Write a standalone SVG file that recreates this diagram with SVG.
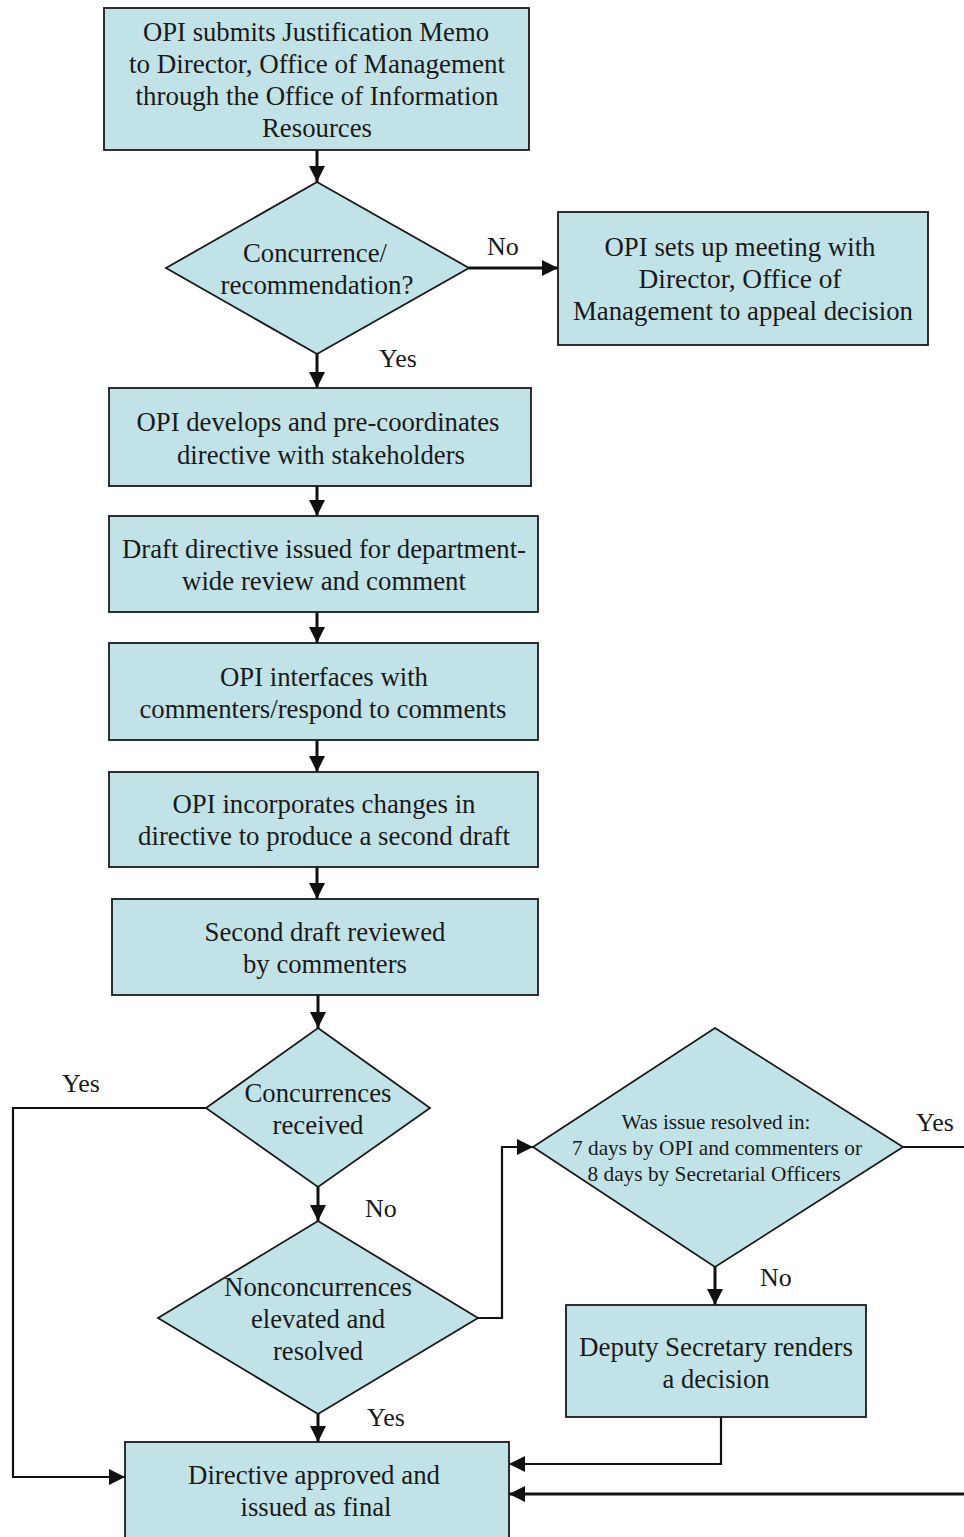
<svg xmlns="http://www.w3.org/2000/svg" width="964" height="1537" viewBox="0 0 964 1537">
<style>
.n{fill:#c1e3e7;stroke:#1a1a1a;stroke-width:1.8}
.t{font-family:"Liberation Serif","Times New Roman",serif;font-size:27px;fill:#1a1a1a;text-anchor:middle}
.s{font-size:21px}
.c{fill:none;stroke:#111;stroke-width:3}
.l{font-family:"Liberation Serif","Times New Roman",serif;font-size:26px;fill:#1a1a1a}
</style>
<defs>
<marker id="a" viewBox="0 0 16 16" refX="16" refY="8" markerWidth="16" markerHeight="16" markerUnits="userSpaceOnUse" orient="auto">
<path d="M0,0 L16,8 L0,16 z" fill="#111"/>
</marker>
</defs>
<rect width="964" height="1537" fill="#fff"/>
<g id="connectors">
<path class="c" d="M317,150 V182" marker-end="url(#a)"/>
<path class="c" d="M469,268 H558" marker-end="url(#a)"/>
<path class="c" d="M317,354 V388" marker-end="url(#a)"/>
<path class="c" d="M317,486 V516" marker-end="url(#a)"/>
<path class="c" d="M317,612 V643" marker-end="url(#a)"/>
<path class="c" d="M317,740 V772" marker-end="url(#a)"/>
<path class="c" d="M317,867 V899" marker-end="url(#a)"/>
<path class="c" d="M318,995 V1028" marker-end="url(#a)"/>
<path class="c" d="M206,1108 H13 V1477 H125" marker-end="url(#a)" style="stroke-width:2.2"/>
<path class="c" d="M318,1187 V1221" marker-end="url(#a)"/>
<path class="c" d="M478,1318 H502 V1147 H533" marker-end="url(#a)" style="stroke-width:2.2"/>
<path class="c" d="M318,1414 V1442" marker-end="url(#a)"/>
<path class="c" d="M903,1147 H964" style="stroke-width:1.8"/>
<path class="c" d="M715,1267 V1305" marker-end="url(#a)"/>
<path class="c" d="M721,1417 V1464 H509" marker-end="url(#a)" style="stroke-width:2.2"/>
<path class="c" d="M964,1494 H509" marker-end="url(#a)" style="stroke-width:3"/>
</g>
<g id="labels">
<text class="l" x="487" y="255">No</text>
<text class="l" x="379" y="367">Yes</text>
<text class="l" x="62" y="1092">Yes</text>
<text class="l" x="365" y="1217">No</text>
<text class="l" x="367" y="1426">Yes</text>
<text class="l" x="916" y="1131">Yes</text>
<text class="l" x="760" y="1286">No</text>
</g>
<g id="n1">
<rect class="n" x="104" y="8" width="425" height="142"/>
<text class="t" x="316" y="41" textLength="346" lengthAdjust="spacingAndGlyphs">OPI submits Justification Memo</text>
<text class="t" x="317" y="73" textLength="376" lengthAdjust="spacingAndGlyphs">to Director, Office of Management</text>
<text class="t" x="317" y="105" textLength="363" lengthAdjust="spacingAndGlyphs">through the Office of Information</text>
<text class="t" x="317" y="137" textLength="110" lengthAdjust="spacingAndGlyphs">Resources</text>
</g>
<g id="d1">
<polygon class="n" points="317,182 469,268 317,354 166,268"/>
<text class="t" x="315" y="262" textLength="144" lengthAdjust="spacingAndGlyphs">Concurrence/</text>
<text class="t" x="317" y="294" textLength="193" lengthAdjust="spacingAndGlyphs">recommendation?</text>
</g>
<g id="n2">
<rect class="n" x="558" y="212" width="370" height="133"/>
<text class="t" x="740" y="256" textLength="271" lengthAdjust="spacingAndGlyphs">OPI sets up meeting with</text>
<text class="t" x="740" y="288" textLength="203" lengthAdjust="spacingAndGlyphs">Director, Office of</text>
<text class="t" x="743" y="320" textLength="340" lengthAdjust="spacingAndGlyphs">Management to appeal decision</text>
</g>
<g id="n3">
<rect class="n" x="109" y="388" width="422" height="98"/>
<text class="t" x="318" y="431" textLength="363" lengthAdjust="spacingAndGlyphs">OPI develops and pre-coordinates</text>
<text class="t" x="321" y="464" textLength="288" lengthAdjust="spacingAndGlyphs">directive with stakeholders</text>
</g>
<g id="n4">
<rect class="n" x="109" y="516" width="429" height="96"/>
<text class="t" x="324" y="558" textLength="404" lengthAdjust="spacingAndGlyphs">Draft directive issued for department-</text>
<text class="t" x="324" y="590" textLength="284" lengthAdjust="spacingAndGlyphs">wide review and comment</text>
</g>
<g id="n5">
<rect class="n" x="109" y="643" width="429" height="97"/>
<text class="t" x="324" y="686" textLength="208" lengthAdjust="spacingAndGlyphs">OPI interfaces with</text>
<text class="t" x="323" y="718" textLength="367" lengthAdjust="spacingAndGlyphs">commenters/respond to comments</text>
</g>
<g id="n6">
<rect class="n" x="109" y="772" width="429" height="95"/>
<text class="t" x="324" y="813" textLength="303" lengthAdjust="spacingAndGlyphs">OPI incorporates changes in</text>
<text class="t" x="324" y="845" textLength="372" lengthAdjust="spacingAndGlyphs">directive to produce a second draft</text>
</g>
<g id="n7">
<rect class="n" x="112" y="899" width="426" height="96"/>
<text class="t" x="325" y="941" textLength="241" lengthAdjust="spacingAndGlyphs">Second draft reviewed</text>
<text class="t" x="325" y="973" textLength="164" lengthAdjust="spacingAndGlyphs">by commenters</text>
</g>
<g id="d2">
<polygon class="n" points="318,1028 430,1108 318,1187 206,1108"/>
<text class="t" x="318" y="1102" textLength="147" lengthAdjust="spacingAndGlyphs">Concurrences</text>
<text class="t" x="318" y="1134" textLength="91" lengthAdjust="spacingAndGlyphs">received</text>
</g>
<g id="d3">
<polygon class="n" points="318,1221 478,1318 318,1414 158,1318"/>
<text class="t" x="318" y="1296" textLength="188" lengthAdjust="spacingAndGlyphs">Nonconcurrences</text>
<text class="t" x="318" y="1328" textLength="134" lengthAdjust="spacingAndGlyphs">elevated and</text>
<text class="t" x="318" y="1360" textLength="90" lengthAdjust="spacingAndGlyphs">resolved</text>
</g>
<g id="d4">
<polygon class="n" points="715,1028 903,1147 715,1267 533,1147"/>
<text class="t s" x="716" y="1129" textLength="189" lengthAdjust="spacingAndGlyphs">Was issue resolved in:</text>
<text class="t s" x="717" y="1155" textLength="290" lengthAdjust="spacingAndGlyphs">7 days by OPI and commenters or</text>
<text class="t s" x="714" y="1181" textLength="253" lengthAdjust="spacingAndGlyphs">8 days by Secretarial Officers</text>
</g>
<g id="n9">
<rect class="n" x="566" y="1305" width="300" height="112"/>
<text class="t" x="716" y="1356" textLength="274" lengthAdjust="spacingAndGlyphs">Deputy Secretary renders</text>
<text class="t" x="716" y="1388" textLength="107" lengthAdjust="spacingAndGlyphs">a decision</text>
</g>
<g id="n8">
<rect class="n" x="125" y="1442" width="384" height="110"/>
<text class="t" x="314" y="1484" textLength="252" lengthAdjust="spacingAndGlyphs">Directive approved and</text>
<text class="t" x="316" y="1516" textLength="151" lengthAdjust="spacingAndGlyphs">issued as final</text>
</g>
</svg>
